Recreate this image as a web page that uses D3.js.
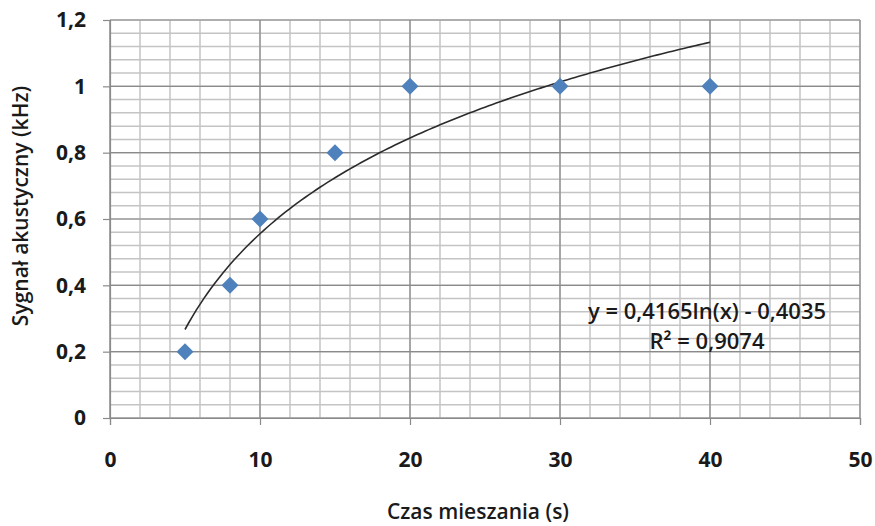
<!DOCTYPE html>
<html>
<head>
<meta charset="utf-8">
<script src="https://cdn.jsdelivr.net/npm/d3@7"></script>
<style>
  body { margin: 0; background: #fff; }
  text { font-family: "Open Sans", sans-serif; fill: #1a1a1a; }
</style>
</head>
<body>
<div id="chart"></div>
<script>
// pomiary
var czas = [5, 8, 10, 15, 20, 30, 40];
var sygnal = [0.2, 0.4, 0.6, 0.8, 1, 1, 1];
var xTicks = [0, 10, 20, 30, 40, 50];
var yTicks = [0, 0.2, 0.4, 0.6, 0.8, 1, 1.2];
// linia trendu (logarytmiczna) z równania
var trendA = 0.4165, trendB = -0.4035;
var trendRange = [5, 40];
var eqLines = ["y = 0,4165ln(x) - 0,4035", "R\u00b2 = 0,9074"];

const WIDTH = 875;
const HEIGHT = 526;
var margin = {top: 20, right: 15, bottom: 108, left: 110};

var svg = d3.select("#chart").append("svg")
    .attr("width", WIDTH)
    .attr("height", HEIGHT);

var x = d3.scaleLinear().domain([0, 50]).range([margin.left, WIDTH - margin.right]);
var y = d3.scaleLinear().domain([0, 1.2]).range([HEIGHT - margin.bottom, margin.top]);

var fmt = function(d) { return d3.format("~g")(d).replace(".", ","); };

// siatka pomocnicza
var g = svg.append("g");
g.selectAll("line.minx")
    .data(d3.range(0, 50.01, 2))
    .enter().append("line")
    .attr("x1", d => x(d)).attr("x2", d => x(d))
    .attr("y1", y(0)).attr("y2", y(1.2))
    .attr("stroke", "#c4c4c4").attr("stroke-width", 1.5);
g.selectAll("line.miny")
    .data(d3.range(0, 1.201, 0.04))
    .enter().append("line")
    .attr("x1", x(0)).attr("x2", x(50))
    .attr("y1", d => y(d)).attr("y2", d => y(d))
    .attr("stroke", "#c4c4c4").attr("stroke-width", 1.5);

// siatka główna
g.selectAll("line.majx")
    .data(xTicks)
    .enter().append("line")
    .attr("x1", d => x(d)).attr("x2", d => x(d))
    .attr("y1", y(0)).attr("y2", y(1.2))
    .attr("stroke", "#8a8a8a").attr("stroke-width", 1.2);
g.selectAll("line.majy")
    .data(yTicks)
    .enter().append("line")
    .attr("x1", x(0)).attr("x2", x(50))
    .attr("y1", d => y(d)).attr("y2", d => y(d))
    .attr("stroke", "#8a8a8a").attr("stroke-width", 1.2);

// osie
var xAxis = svg.append("g")
    .attr("transform", "translate(0," + y(0) + ")")
    .call(d3.axisBottom(x).tickValues(xTicks).tickFormat(fmt).tickSize(7).tickPadding(27));
var yAxis = svg.append("g")
    .attr("transform", "translate(" + x(0) + ",0)")
    .call(d3.axisLeft(y).tickValues(yTicks).tickFormat(fmt).tickSize(7).tickPadding(17));
[xAxis, yAxis].forEach(function(a) {
    a.select(".domain").attr("stroke", "#8a8a8a").attr("stroke-width", 1.2);
    a.selectAll(".tick line").attr("stroke", "#8a8a8a").attr("stroke-width", 1.2);
    a.selectAll(".tick text")
        .attr("font-family", "Open Sans, sans-serif")
        .attr("font-size", 21)
        .attr("font-weight", "bold")
        .attr("fill", "#1a1a1a");
});

// linia trendu
var trendPts = d3.range(trendRange[0], trendRange[1] + 0.001, 0.25)
    .map(function(t) { return [t, trendA * Math.log(t) + trendB]; });
svg.append("path")
    .datum(trendPts)
    .attr("fill", "none")
    .attr("stroke", "#2b2b2b")
    .attr("stroke-width", 1.6)
    .attr("d", d3.line().x(d => x(d[0])).y(d => y(d[1])));

// punkty
svg.selectAll("path.pt")
    .data(czas)
    .enter().append("path")
    .attr("d", d3.symbol().type(d3.symbolDiamond2).size(185))
    .attr("transform", (d, i) => "translate(" + x(d) + "," + y(sygnal[i]) + ")")
    .attr("fill", "#4f81bd");

// równanie
svg.selectAll("text.eq")
    .data(eqLines)
    .enter().append("text")
    .attr("x", 707)
    .attr("y", (d, i) => 319 + i * 30)
    .attr("text-anchor", "middle")
    .attr("font-size", 22)
    .attr("font-weight", 600)
    .text(d => d);

// tytuły osi
svg.append("text")
    .attr("x", 478)
    .attr("y", 519)
    .attr("text-anchor", "middle")
    .attr("font-size", 21)
    .attr("font-weight", 600)
    .text("Czas mieszania (s)");
svg.append("text")
    .attr("transform", "translate(28,206) rotate(-90)")
    .attr("text-anchor", "middle")
    .attr("font-size", 21)
    .attr("font-weight", 600)
    .text("Sygnał akustyczny (kHz)");
</script>
</body>
</html>
